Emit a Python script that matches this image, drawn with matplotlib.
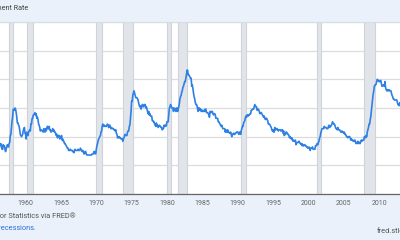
import matplotlib
matplotlib.use("Agg")
import matplotlib.pyplot as plt
import matplotlib.dates as mdates
import pandas as pd

plt.rcParams['font.family'] = ['Roboto', 'DejaVu Sans']

# monthly civilian unemployment rate (%), from Jan 1956
unrate = [
    4.0, 3.9, 4.2, 4.0, 4.3, 4.3, 4.4, 4.1, 3.9, 3.9, 4.3, 4.2,  # 1956
    4.2, 3.9, 3.7, 3.9, 4.1, 4.3, 4.2, 4.1, 4.4, 4.5, 5.1, 5.2,  # 1957
    5.8, 6.4, 6.7, 7.4, 7.4, 7.3, 7.5, 7.4, 7.1, 6.7, 6.2, 6.2,  # 1958
    6.0, 5.9, 5.6, 5.2, 5.1, 5.0, 5.1, 5.2, 5.5, 5.7, 5.8, 5.3,  # 1959
    5.2, 4.8, 5.4, 5.2, 5.1, 5.4, 5.5, 5.6, 5.5, 6.1, 6.1, 6.6,  # 1960
    6.6, 6.9, 6.9, 7.0, 7.1, 6.9, 7.0, 6.6, 6.7, 6.5, 6.1, 6.0,  # 1961
    5.8, 5.5, 5.6, 5.6, 5.5, 5.5, 5.4, 5.7, 5.6, 5.4, 5.7, 5.5,  # 1962
    5.7, 5.9, 5.7, 5.7, 5.9, 5.6, 5.6, 5.4, 5.5, 5.5, 5.7, 5.5,  # 1963
    5.6, 5.4, 5.4, 5.3, 5.1, 5.2, 4.9, 5.0, 5.1, 5.1, 4.8, 5.0,  # 1964
    4.9, 5.1, 4.7, 4.8, 4.6, 4.6, 4.4, 4.4, 4.3, 4.2, 4.1, 4.0,  # 1965
    4.0, 3.8, 3.8, 3.8, 3.9, 3.8, 3.8, 3.8, 3.7, 3.7, 3.6, 3.8,  # 1966
    3.9, 3.8, 3.8, 3.8, 3.8, 3.9, 3.8, 3.8, 3.8, 4.0, 3.9, 3.8,  # 1967
    3.7, 3.8, 3.7, 3.5, 3.5, 3.7, 3.7, 3.5, 3.4, 3.4, 3.4, 3.4,  # 1968
    3.4, 3.4, 3.4, 3.4, 3.4, 3.5, 3.5, 3.5, 3.7, 3.7, 3.5, 3.5,  # 1969
    3.9, 4.2, 4.4, 4.6, 4.8, 4.9, 5.0, 5.1, 5.4, 5.5, 5.9, 6.1,  # 1970
    5.9, 5.9, 6.0, 5.9, 5.9, 5.9, 6.0, 6.1, 6.0, 5.8, 6.0, 6.0,  # 1971
    5.8, 5.7, 5.8, 5.7, 5.7, 5.7, 5.6, 5.6, 5.5, 5.6, 5.3, 5.2,  # 1972
    4.9, 5.0, 4.9, 5.0, 4.9, 4.9, 4.8, 4.8, 4.8, 4.6, 4.8, 4.9,  # 1973
    5.1, 5.2, 5.1, 5.1, 5.1, 5.4, 5.5, 5.5, 5.9, 6.0, 6.6, 7.2,  # 1974
    8.1, 8.1, 8.6, 8.8, 9.0, 8.8, 8.6, 8.4, 8.4, 8.4, 8.3, 8.2,  # 1975
    7.9, 7.7, 7.6, 7.7, 7.4, 7.6, 7.8, 7.8, 7.6, 7.7, 7.8, 7.8,  # 1976
    7.5, 7.6, 7.4, 7.2, 7.0, 7.2, 6.9, 7.0, 6.8, 6.8, 6.8, 6.4,  # 1977
    6.4, 6.3, 6.3, 6.1, 6.0, 5.9, 6.2, 5.9, 6.0, 5.8, 5.9, 6.0,  # 1978
    5.9, 5.9, 5.8, 5.8, 5.6, 5.7, 5.7, 6.0, 5.9, 6.0, 5.9, 6.0,  # 1979
    6.3, 6.3, 6.3, 6.9, 7.5, 7.6, 7.8, 7.7, 7.5, 7.5, 7.5, 7.2,  # 1980
    7.5, 7.4, 7.4, 7.2, 7.5, 7.5, 7.2, 7.4, 7.6, 7.9, 8.3, 8.5,  # 1981
    8.6, 8.9, 9.0, 9.3, 9.4, 9.6, 9.8, 9.8, 10.1, 10.4, 10.8, 10.8,  # 1982
    10.4, 10.4, 10.3, 10.2, 10.1, 10.1, 9.4, 9.5, 9.2, 8.8, 8.5, 8.3,  # 1983
    8.0, 7.8, 7.8, 7.7, 7.4, 7.2, 7.5, 7.5, 7.3, 7.4, 7.2, 7.3,  # 1984
    7.3, 7.2, 7.2, 7.3, 7.2, 7.4, 7.4, 7.1, 7.1, 7.1, 7.0, 7.0,  # 1985
    6.7, 7.2, 7.2, 7.1, 7.2, 7.2, 7.0, 6.9, 7.0, 7.0, 6.9, 6.6,  # 1986
    6.6, 6.6, 6.6, 6.3, 6.3, 6.2, 6.1, 6.0, 5.9, 6.0, 5.8, 5.7,  # 1987
    5.7, 5.7, 5.7, 5.4, 5.6, 5.4, 5.4, 5.6, 5.4, 5.4, 5.3, 5.3,  # 1988
    5.4, 5.2, 5.0, 5.2, 5.2, 5.3, 5.2, 5.2, 5.3, 5.3, 5.4, 5.4,  # 1989
    5.4, 5.3, 5.2, 5.4, 5.4, 5.2, 5.5, 5.7, 5.9, 5.9, 6.2, 6.3,  # 1990
    6.4, 6.6, 6.8, 6.7, 6.9, 6.9, 6.8, 6.9, 6.9, 7.0, 7.0, 7.3,  # 1991
    7.3, 7.4, 7.4, 7.4, 7.6, 7.8, 7.7, 7.6, 7.6, 7.3, 7.4, 7.4,  # 1992
    7.3, 7.1, 7.0, 7.1, 7.1, 7.0, 6.9, 6.8, 6.7, 6.8, 6.6, 6.5,  # 1993
    6.6, 6.6, 6.5, 6.4, 6.1, 6.1, 6.1, 6.0, 5.9, 5.8, 5.6, 5.5,  # 1994
    5.6, 5.4, 5.4, 5.8, 5.6, 5.6, 5.7, 5.7, 5.6, 5.5, 5.6, 5.6,  # 1995
    5.6, 5.5, 5.5, 5.6, 5.6, 5.3, 5.5, 5.1, 5.2, 5.2, 5.4, 5.4,  # 1996
    5.3, 5.2, 5.2, 5.1, 4.9, 5.0, 4.9, 4.8, 4.9, 4.7, 4.6, 4.7,  # 1997
    4.6, 4.6, 4.7, 4.3, 4.4, 4.5, 4.5, 4.5, 4.6, 4.5, 4.4, 4.4,  # 1998
    4.3, 4.4, 4.2, 4.3, 4.2, 4.3, 4.3, 4.2, 4.2, 4.1, 4.1, 4.0,  # 1999
    4.0, 4.1, 4.0, 3.8, 4.0, 4.0, 4.0, 4.1, 3.9, 3.9, 3.9, 3.9,  # 2000
    4.2, 4.2, 4.3, 4.4, 4.3, 4.5, 4.6, 4.9, 5.0, 5.3, 5.5, 5.7,  # 2001
    5.7, 5.7, 5.7, 5.9, 5.8, 5.8, 5.8, 5.7, 5.7, 5.7, 5.9, 6.0,  # 2002
    5.8, 5.9, 5.9, 6.0, 6.1, 6.3, 6.2, 6.1, 6.1, 6.0, 5.8, 5.7,  # 2003
    5.7, 5.6, 5.8, 5.6, 5.6, 5.6, 5.5, 5.4, 5.4, 5.5, 5.4, 5.4,  # 2004
    5.3, 5.4, 5.2, 5.2, 5.1, 5.0, 5.0, 4.9, 5.0, 5.0, 5.0, 4.9,  # 2005
    4.7, 4.8, 4.7, 4.7, 4.6, 4.6, 4.7, 4.7, 4.5, 4.4, 4.5, 4.4,  # 2006
    4.6, 4.5, 4.4, 4.5, 4.4, 4.6, 4.7, 4.6, 4.7, 4.7, 4.7, 5.0,  # 2007
    5.0, 4.9, 5.1, 5.0, 5.4, 5.6, 5.8, 6.1, 6.1, 6.5, 6.8, 7.3,  # 2008
    7.8, 8.3, 8.7, 9.0, 9.4, 9.5, 9.5, 9.6, 9.8, 10.0, 9.9, 9.9,  # 2009
    9.8, 9.8, 9.9, 9.9, 9.6, 9.4, 9.4, 9.5, 9.5, 9.4, 9.8, 9.3,  # 2010
    9.1, 9.0, 9.0, 9.1, 9.0, 9.1, 9.0, 9.0, 9.0, 8.8, 8.6, 8.5,  # 2011
    8.3, 8.3, 8.2, 8.2, 8.2, 8.2, 8.2, 8.0, 7.8, 7.8, 7.7, 7.9,  # 2012
    8.0, 7.7, 7.5, 7.6, 7.5, 7.5,  # 2013
]
dates = pd.date_range("1956-01-01", periods=len(unrate), freq="MS")

rec_start = ["1957-08-01", "1960-04-01", "1969-12-01", "1973-11-01", "1980-01-01",
             "1981-07-01", "1990-07-01", "2001-03-01", "2007-12-01"]
rec_end = ["1958-04-01", "1961-02-01", "1970-11-01", "1975-03-01", "1980-07-01",
           "1982-11-01", "1991-03-01", "2001-11-01", "2009-06-01"]

fig = plt.figure(figsize=(4, 2.4), dpi=100, facecolor="#eaf1fa")
ax = fig.add_axes([0, 46 / 240, 1, 172 / 240])
ax.set_facecolor("white")

# recession shading
for s, e in zip(rec_start, rec_end):
    ax.axvspan(pd.Timestamp(s), pd.Timestamp(e), facecolor="#e1e5ea",
               edgecolor="#cfd4db", linewidth=0.8, zorder=1)

ax.plot(dates, unrate, color="#2f80e4", linewidth=1.2, zorder=3)

ax.set_ylim(0, 15)
ax.set_yticks([0, 2.5, 5, 7.5, 10, 12.5, 15])
ax.set_xlim(pd.Timestamp("1956-05-18"), pd.Timestamp("2012-12-16"))
ax.xaxis.set_major_locator(mdates.YearLocator(5))
ax.xaxis.set_major_formatter(mdates.DateFormatter("%Y"))
ax.tick_params(axis="x", length=0, pad=4, labelsize=5, labelcolor="#666666")
ax.tick_params(axis="y", left=False, labelleft=False)
ax.grid(axis="y", color="#dcdcdc", linewidth=0.9, zorder=0)
ax.set_axisbelow(True)

for side in ["left", "right"]:
    ax.spines[side].set_visible(False)
ax.spines["top"].set_color("#d8dde3")
ax.spines["top"].set_linewidth(0.8)
ax.spines["bottom"].set_color("#666666")
ax.spines["bottom"].set_linewidth(0.9)

fig.text(28 / 400, 1 - 9 / 240, "Civilian Unemployment Rate", ha="right", va="center",
         fontsize=5.2, color="#444444")
fig.text(76 / 400, 1 - 217 / 240, "Source: U.S. Bureau of Labor Statistics via FRED®",
         ha="right", va="center", fontsize=5.3, color="#555555")
fig.text(36 / 400, 1 - 228 / 240, "Shaded areas indicate U.S. recessions.",
         ha="right", va="center", fontsize=5.3, color="#2a6fd6")
fig.text(377 / 400, 1 - 231 / 240, "fred.stlouisfed.org", ha="left", va="center",
         fontsize=5.3, color="#555555")

plt.savefig("out.png", dpi=100, facecolor=fig.get_facecolor())
